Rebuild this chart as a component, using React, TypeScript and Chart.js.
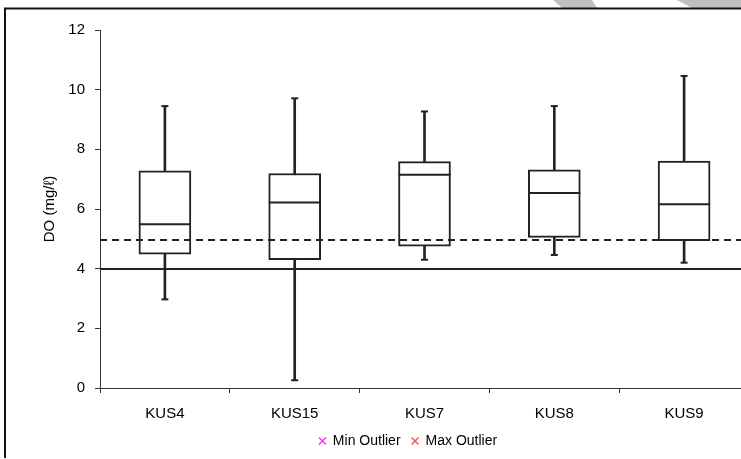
import React, { useEffect, useRef } from 'react';
import { Chart, registerables } from 'chart.js';

Chart.register(...registerables);

const categories = ['KUS4', 'KUS15', 'KUS7', 'KUS8', 'KUS9'];
const minValues = [2.97, 0.26, 4.3, 4.46, 4.2];
const q1Values = [4.49, 4.3, 4.75, 5.05, 4.94];
const medianValues = [5.49, 6.22, 7.15, 6.54, 6.16];
const q3Values = [7.28, 7.19, 7.59, 7.31, 7.61];
const maxValues = [9.45, 9.71, 9.27, 9.45, 10.46];
const solidLimits = [4.0];
const dashedLimits = [4.95];
const yTickValues = [0, 2, 4, 6, 8, 10, 12];
const legendNames = ['Min Outlier', 'Max Outlier'];
const legendColors = ['#ff33ff', '#ff5050'];

const INK = '#222222';
const FONT = "'Liberation Sans', Arial, sans-serif";

const refLinesPlugin = {
  id: 'refLines',
  afterDatasetsDraw(chart: any) {
    const { ctx, chartArea, scales } = chart;
    const y = scales.y;
    ctx.save();
    ctx.strokeStyle = INK;
    ctx.lineWidth = 2;
    solidLimits.forEach((v) => {
      const py = Math.round(y.getPixelForValue(v));
      ctx.setLineDash([]);
      ctx.beginPath();
      ctx.moveTo(chartArea.left, py);
      ctx.lineTo(chartArea.right, py);
      ctx.stroke();
    });
    dashedLimits.forEach((v) => {
      const py = Math.round(y.getPixelForValue(v));
      ctx.setLineDash([7, 5]);
      ctx.beginPath();
      ctx.moveTo(chartArea.left, py);
      ctx.lineTo(chartArea.right, py);
      ctx.stroke();
    });
    ctx.restore();
  },
};

const framePlugin = {
  id: 'frame',
  beforeDraw(chart: any) {
    const { ctx } = chart;
    ctx.save();
    ctx.fillStyle = '#c0c0c0';
    ctx.beginPath();
    ctx.moveTo(553, 0);
    ctx.lineTo(592, 0);
    ctx.lineTo(597, 8);
    ctx.lineTo(562, 8);
    ctx.closePath();
    ctx.fill();
    ctx.beginPath();
    ctx.moveTo(677, 0);
    ctx.lineTo(741, 0);
    ctx.lineTo(741, 8);
    ctx.lineTo(692, 8);
    ctx.closePath();
    ctx.fill();
    ctx.restore();
  },
  afterDraw(chart: any) {
    const { ctx, width, height } = chart;
    ctx.save();
    ctx.strokeStyle = '#111';
    ctx.lineWidth = 2;
    ctx.beginPath();
    ctx.moveTo(5, height + 5);
    ctx.lineTo(5, 8.5);
    ctx.lineTo(width, 8.5);
    ctx.stroke();
    ctx.restore();
  },
};

export default function App() {
  const canvasRef = useRef<HTMLCanvasElement | null>(null);

  useEffect(() => {
    const canvas = canvasRef.current;
    if (!canvas) return;
    Chart.defaults.font.family = FONT;
    Chart.defaults.color = '#000';

    const chart = new Chart(canvas, {
      type: 'bar',
      data: {
        labels: categories,
        datasets: [
          {
            type: 'bar',
            label: 'whisker',
            data: categories.map((_, i) => [minValues[i], maxValues[i]]),
            backgroundColor: INK,
            borderWidth: 0,
            barThickness: 2,
            grouped: false,
            order: 5,
          } as any,
          {
            type: 'bar',
            label: 'box',
            data: categories.map((_, i) => [q1Values[i], q3Values[i]]),
            backgroundColor: '#ffffff',
            borderColor: INK,
            borderWidth: 2,
            borderSkipped: false,
            barThickness: 52,
            grouped: false,
            order: 4,
          } as any,
          {
            type: 'line',
            label: 'median',
            data: medianValues,
            showLine: false,
            pointStyle: 'line',
            pointRadius: 26,
            pointBorderWidth: 2,
            pointBorderColor: INK,
            borderColor: INK,
            order: 1,
          } as any,
          {
            type: 'line',
            label: 'maxcap',
            data: maxValues,
            showLine: false,
            pointStyle: 'line',
            pointRadius: 3.5,
            pointBorderWidth: 2,
            pointBorderColor: INK,
            borderColor: INK,
            order: 2,
          } as any,
          {
            type: 'line',
            label: 'mincap',
            data: minValues,
            showLine: false,
            pointStyle: 'line',
            pointRadius: 3.5,
            pointBorderWidth: 2,
            pointBorderColor: INK,
            borderColor: INK,
            order: 2,
          } as any,
          ...legendNames.map(
            (name, i) =>
              ({
                type: 'line',
                label: name,
                data: [],
                showLine: false,
                pointStyle: 'crossRot',
                borderColor: legendColors[i],
                backgroundColor: legendColors[i],
                borderWidth: 1.5,
                order: 10,
              } as any)
          ),
        ],
      },
      options: {
        responsive: false,
        animation: false,
        devicePixelRatio: 1,
        layout: { padding: { left: 67, right: 67, top: 30, bottom: 0 } },
        plugins: {
          tooltip: { enabled: false },
          legend: {
            position: 'bottom',
            labels: {
              usePointStyle: true,
              boxWidth: 7,
              boxHeight: 7,
              padding: 11,
              color: '#000',
              font: { size: 14, family: FONT },
              filter: (item: any) => legendNames.includes(item.text),
            },
          },
        },
        scales: {
          x: {
            type: 'category',
            afterFit: (s: any) => {
              s.height = 35;
            },
            border: { display: true, color: '#333', width: 1 },
            grid: {
              display: true,
              drawOnChartArea: false,
              drawTicks: true,
              tickLength: 5,
              color: '#333',
              offset: true,
            },
            ticks: { color: '#000', padding: 12, font: { size: 15, family: FONT } },
          },
          y: {
            type: 'linear',
            min: 0,
            max: 12,
            afterFit: (s: any) => {
              s.width = 33;
            },
            afterBuildTicks: (s: any) => {
              s.ticks = yTickValues.map((v) => ({ value: v }));
            },
            border: { display: true, color: '#333', width: 1 },
            grid: {
              display: true,
              drawOnChartArea: false,
              drawTicks: true,
              tickLength: 5,
              color: '#333',
            },
            ticks: { color: '#000', padding: 10, font: { size: 15, family: FONT } },
            title: {
              display: true,
              text: 'DO (mg/ℓ)',
              color: '#000',
              font: { size: 15, family: FONT },
              padding: { top: -26, bottom: 0 },
            },
          },
        },
      },
      plugins: [refLinesPlugin, framePlugin],
    } as any);

    return () => {
      chart.destroy();
    };
  }, []);

  return (
    <div
      style={{
        position: 'fixed',
        left: 0,
        top: 0,
        width: 741,
        height: 459,
        overflow: 'hidden',
        background: '#fff',
      }}
    >
      <canvas ref={canvasRef} width={816} height={458} style={{ display: 'block' }} />
    </div>
  );
}
